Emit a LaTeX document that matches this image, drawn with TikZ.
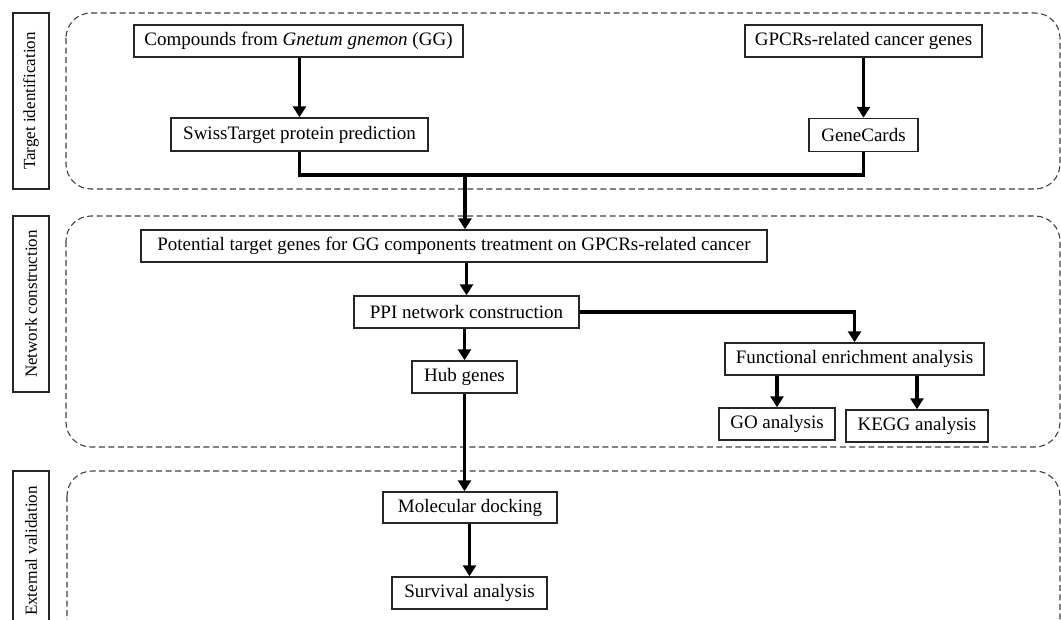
\documentclass[tikz,border=0pt]{standalone}
\usepackage{fontspec}
\setmainfont{Liberation Serif}
\usetikzlibrary{arrows.meta}
\begin{document}
\begin{tikzpicture}[x=1pt,y=1pt,
  box/.style={draw=black!85, line width=1.5pt, inner sep=0pt, align=center, font=\fontsize{19}{21}\selectfont},
  lbl/.style={draw=black!85, line width=1.5pt, inner sep=0pt, rotate=90, font=\fontsize{17}{19}\selectfont},
  region/.style={draw=black!75, line width=1.1pt, dash pattern=on 6pt off 3.5pt, rounded corners=25pt},
  flow/.style={line width=3.6pt},
  arr/.style={line width=3.6pt, -{Triangle[length=11pt,width=13pt]}}
]
\useasboundingbox (0,0) rectangle (1061,-619);
\clip (0,0) rectangle (1061,-619);

% regions
\draw[region] (66,-13) rectangle (1060,-189);
\draw[region] (66,-216) rectangle (1060,-447);
\draw[region] (67,-471) rectangle (1060,-680);

% side labels
\node[lbl, minimum height=36pt, minimum width=176pt] (l1) at (31,-101) {Target identification};
\node[lbl, minimum height=36pt, minimum width=176pt] (l2) at (31,-304) {Network construction};
\node[lbl, minimum height=36pt, minimum width=160pt] (l3) at (31,-551) {External validation};

% boxes
\node[box, minimum width=329pt, minimum height=32pt] (comp) at (298.5,-41) {Compounds from \textit{Gnetum gnemon} (GG)};
\node[box, minimum width=257pt, minimum height=33pt] (swiss) at (299.5,-134.5) {SwissTarget protein prediction};
\node[box, minimum width=237pt, minimum height=32pt] (gpcr) at (863.5,-41) {GPCRs-related cancer genes};
\node[box, minimum width=109pt, minimum height=33pt] (gene) at (863.5,-135) {GeneCards};
\node[box, minimum width=626pt, minimum height=32pt] (pot) at (454,-246) {Potential target genes for GG components treatment on GPCRs-related cancer};
\node[box, minimum width=225pt, minimum height=32pt] (ppi) at (466.5,-312) {PPI network construction};
\node[box, minimum width=105pt, minimum height=32pt] (hub) at (464.5,-377) {Hub genes};
\node[box, minimum width=259pt, minimum height=32pt] (func) at (854.5,-359) {Functional enrichment analysis};
\node[box, minimum width=116pt, minimum height=32pt] (go) at (777,-424) {GO analysis};
\node[box, minimum width=142pt, minimum height=32pt] (kegg) at (917,-426) {KEGG analysis};
\node[box, minimum width=174pt, minimum height=31pt] (dock) at (470,-507.5) {Molecular docking};
\node[box, minimum width=155pt, minimum height=32pt] (surv) at (469.5,-593) {Survival analysis};

% connectors
\coordinate (j) at (465,-175);
\draw[arr] (comp.south -| swiss.north) -- (swiss.north);
\draw[arr] (gpcr.south) -- (gene.north);
\draw[flow] (swiss.south) |- (j) -| (gene.south);
\draw[arr] (j) -- (j |- pot.north);
\draw[arr] (ppi.north |- pot.south) -- (ppi.north);
\draw[arr] (hub.north |- ppi.south) -- (hub.north);
\draw[arr] (ppi.east) -| (func.north);
\draw[arr] (func.south -| go.north) -- (go.north);
\draw[arr] (func.south -| kegg.north) -- (kegg.north);
\draw[arr] (hub.south) -- (hub.south |- dock.north);
\draw[arr] (dock.south -| surv.north) -- (surv.north);
\end{tikzpicture}
\end{document}
